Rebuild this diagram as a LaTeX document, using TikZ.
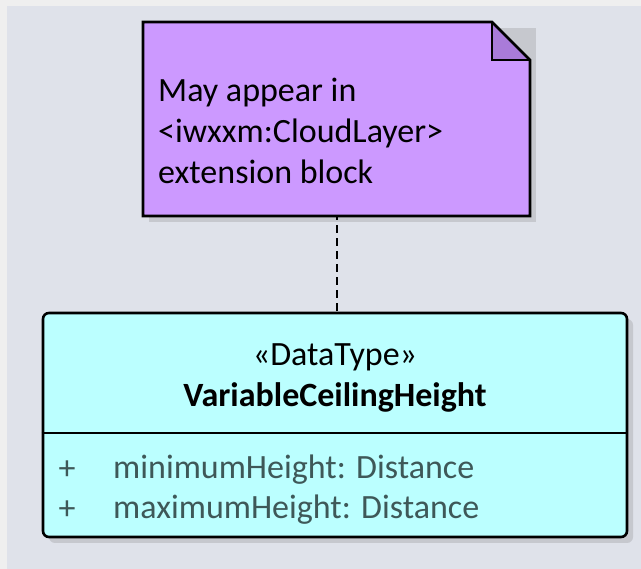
\documentclass[tikz,border=0pt]{standalone}
\usepackage{fontspec}
\setmainfont{Carlito}
\begin{document}
\begin{tikzpicture}[x=1pt,y=-1pt,
  txt/.style={inner sep=0pt,font=\fontsize{34}{41}\selectfont},
  attr/.style={txt,text=attrcol,anchor=west},
  border/.style={line width=2.6pt,draw=black},
  shadowc/.style={fill=shadowgray}]
\definecolor{bgcol}{HTML}{DFE2EA}
\definecolor{edgecol}{HTML}{EFEFEF}
\definecolor{notefill}{HTML}{CC99FF}
\definecolor{foldfill}{HTML}{A97BD9}
\definecolor{clsfill}{HTML}{BBFFFF}
\definecolor{shadowgray}{HTML}{C6C8CE}
\definecolor{attrcol}{HTML}{3E5858}
\useasboundingbox (0,0) rectangle (641,569);
\fill[edgecol] (0,0) rectangle (641,569);
\fill[bgcol] (7,6) rectangle (641,569);
% shadows
\fill[shadowc] (149,28) rectangle (536,222);
\fill[shadowc,rounded corners=6pt] (49,319) rectangle (633,543);
% note shape
\fill[notefill] (143,22) -- (492,22) -- (530,60) -- (530,216) -- (143,216) -- cycle;
\fill[foldfill] (492,22) -- (530,60) -- (492,60) -- cycle;
\draw[border,line join=miter] (143,22) -- (492,22) -- (530,60) -- (530,216) -- (143,216) -- cycle;
\draw[border] (492,22) -- (492,60) -- (530,60);
\node[inner sep=0pt,minimum width=387pt,minimum height=194pt] (note) at (336.5,119) {};
\node[txt,anchor=west,align=left] (notetext) at (158,131) {May appear in\\\textless iwxxm:CloudLayer\textgreater\\extension block};
% class box
\node[border,fill=clsfill,rounded corners=6pt,inner sep=0pt,
  minimum width=584pt,minimum height=224pt] (cls) at (335,425) {};
\draw[border] (cls.west |- 0,433) -- (cls.east |- 0,433);
\node[txt] (stereo) at (335,357) {«DataType»};
\node[txt,font=\fontsize{34}{41}\selectfont\bfseries] (cname) at (335,397) {VariableCeilingHeight};
\node[txt,text=attrcol] (p1) at (67,470) {+};
\node[txt,text=attrcol] (p2) at (67,510) {+};
\node[attr] (a1) at (113,470) {minimumHeight: Distance};
\node[attr] (a2) at (113,510) {maximumHeight: Distance};
% connector
\draw[line width=2.6pt,dash pattern=on 8pt off 5pt,dash phase=-9pt] (note.south -| 337,0) -- (cls.north -| 337,0);
\end{tikzpicture}
\end{document}
